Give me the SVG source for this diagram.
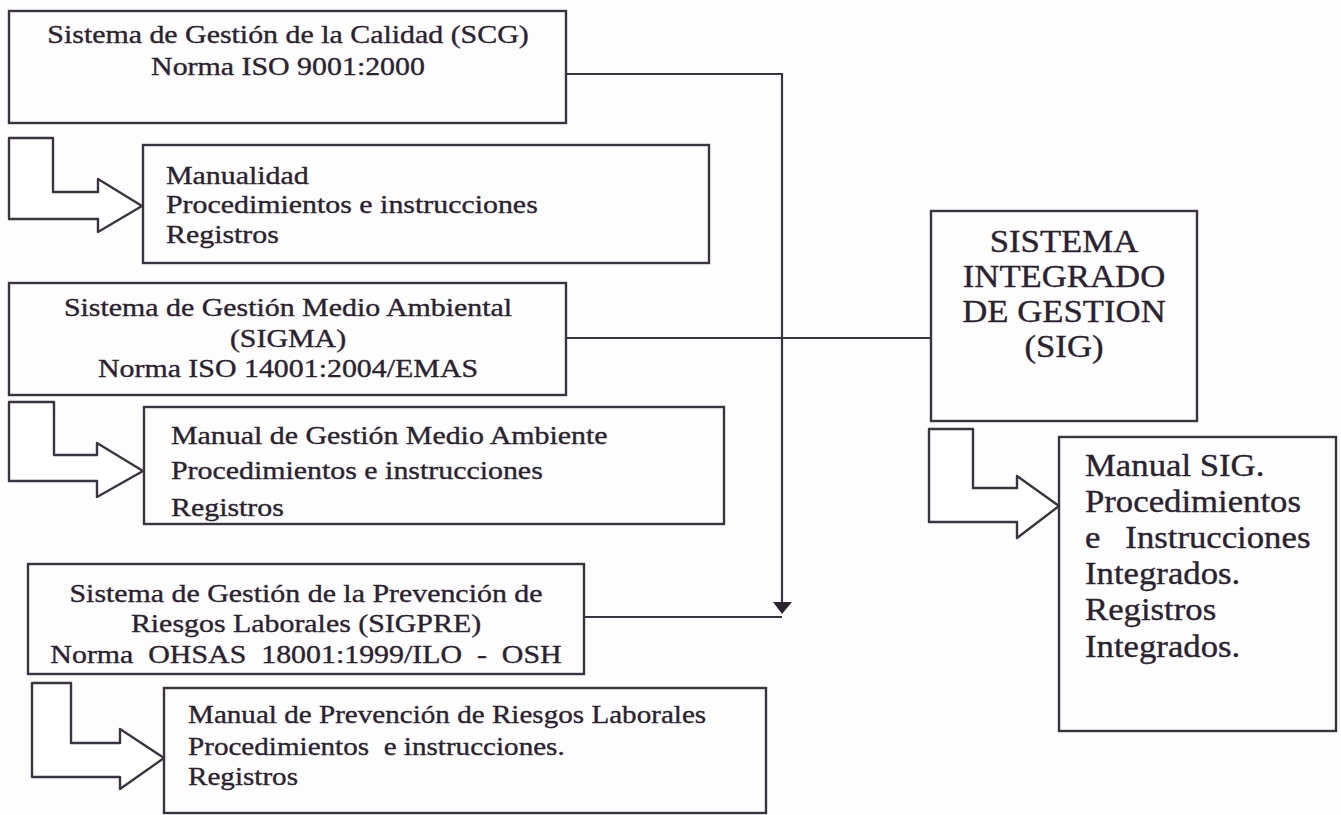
<svg xmlns="http://www.w3.org/2000/svg" width="1341" height="815" viewBox="0 0 1341 815">
<style>
.box{fill:none;stroke:#3a3340;stroke-width:2.4}
.arr{fill:#fff;stroke:#3a3340;stroke-width:2.4;stroke-linejoin:round}
.ln{fill:none;stroke:#3a3340;stroke-width:2.2}
.t{font-family:"Liberation Serif","Times New Roman",serif;fill:#2b2230;stroke:#2b2230;stroke-width:0.35;font-size:26px;white-space:pre}
.c{text-anchor:middle}
.big{font-size:31px}
</style>
<rect width="1341" height="815" fill="#fdfdfd"/>
<g id="connectors">
<path class="ln" d="M566,74 H782 V604"/>
<polygon points="773,602 792,602 782,614" fill="#2b2230"/>
<path class="ln" d="M566,338 H931"/>
<path class="ln" d="M584,617 H782"/>
</g>
<g id="scg">
<rect class="box" x="9" y="11" width="557" height="112"/>
<text class="t c" transform="matrix(1.15 0 0 1 288 43)">Sistema de Gestión de la Calidad (SCG)</text>
<text class="t c" transform="matrix(1.15 0 0 1 288 75)">Norma ISO 9001:2000</text>
</g>
<g id="arrow1"><path class="arr" d="M9,138 H53 V192 H98 V179 L142,206 L98,232 V219 H9 Z"/></g>
<g id="scg-docs">
<rect class="box" x="143" y="145" width="566" height="118"/>
<text class="t" transform="matrix(1.15 0 0 1 166 184)">Manualidad</text>
<text class="t" transform="matrix(1.15 0 0 1 166 213)">Procedimientos e instrucciones</text>
<text class="t" transform="matrix(1.15 0 0 1 166 243)">Registros</text>
</g>
<g id="sigma">
<rect class="box" x="9" y="283" width="557" height="112"/>
<text class="t c" transform="matrix(1.15 0 0 1 288 316)">Sistema de Gestión Medio Ambiental</text>
<text class="t c" transform="matrix(1.15 0 0 1 288 347)">(SIGMA)</text>
<text class="t c" transform="matrix(1.15 0 0 1 288 377)">Norma ISO 14001:2004/EMAS</text>
</g>
<g id="arrow2"><path class="arr" d="M9,402 H54 V455 H97 V443 L143,471 L97,497 V481 H9 Z"/></g>
<g id="sigma-docs">
<rect class="box" x="144" y="407" width="580" height="117"/>
<text class="t" transform="matrix(1.15 0 0 1 171 444)">Manual de Gestión Medio Ambiente</text>
<text class="t" transform="matrix(1.15 0 0 1 171 479)">Procedimientos e instrucciones</text>
<text class="t" transform="matrix(1.15 0 0 1 171 516)">Registros</text>
</g>
<g id="sigpre">
<rect class="box" x="28" y="564" width="556" height="110"/>
<text class="t c" transform="matrix(1.15 0 0 1 306 602)">Sistema de Gestión de la Prevención de</text>
<text class="t c" transform="matrix(1.15 0 0 1 306 632)">Riesgos Laborales (SIGPRE)</text>
<text class="t c" transform="matrix(1.15 0 0 1 306 663)">Norma  OHSAS  18001:1999/ILO  -  OSH</text>
</g>
<g id="arrow3"><path class="arr" d="M32,683 H71 V743 H120 V729 L164,758 L120,789 V777 H32 Z"/></g>
<g id="sigpre-docs">
<rect class="box" x="164" y="688" width="602" height="125"/>
<text class="t" transform="matrix(1.12 0 0 1 188 723)">Manual de Prevención de Riesgos Laborales</text>
<text class="t" transform="matrix(1.12 0 0 1 188 755)">Procedimientos  e instrucciones.</text>
<text class="t" transform="matrix(1.12 0 0 1 188 785)">Registros</text>
</g>
<g id="sig">
<rect class="box" x="931" y="211" width="266" height="210"/>
<text class="t c big" transform="matrix(1.12 0 0 1 1064 252)">SISTEMA</text>
<text class="t c big" transform="matrix(1.12 0 0 1 1064 287)">INTEGRADO</text>
<text class="t c big" transform="matrix(1.12 0 0 1 1064 322)">DE GESTION</text>
<text class="t c big" transform="matrix(1.12 0 0 1 1064 357)">(SIG)</text>
</g>
<g id="arrow4"><path class="arr" d="M929,429 H973 V488 H1017 V476 L1059,506 L1017,538 V522 H929 Z"/></g>
<g id="sig-docs">
<rect class="box" x="1059" y="437" width="277" height="294"/>
<text class="t big" transform="matrix(1.12 0 0 1 1085 476)">Manual SIG.</text>
<text class="t big" transform="matrix(1.12 0 0 1 1085 512)">Procedimientos</text>
<text class="t big" transform="matrix(1.12 0 0 1 1085 548)">e<tspan x="36">Instrucciones</tspan></text>
<text class="t big" transform="matrix(1.12 0 0 1 1085 584)">Integrados.</text>
<text class="t big" transform="matrix(1.12 0 0 1 1085 620)">Registros</text>
<text class="t big" transform="matrix(1.12 0 0 1 1085 657)">Integrados.</text>
</g>
</svg>
